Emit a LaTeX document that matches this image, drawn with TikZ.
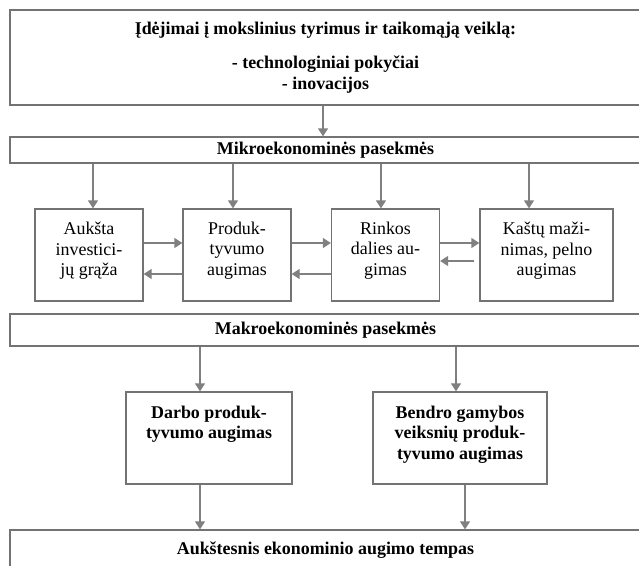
\documentclass[tikz,border=0pt]{standalone}
\usepackage{fontspec}
\setmainfont{Liberation Serif}
\usetikzlibrary{positioning,arrows.meta}

\begin{document}
\begin{tikzpicture}[
  x=0.3mm,y=-0.3mm,
  every node/.style={font=\fontsize{15.3}{17.9}\selectfont},
  box/.style={draw=black!55,line width=0.4mm,inner sep=0pt},
  band/.style={box,minimum width=189.3mm,align=center,font=\fontsize{15.3}{17.9}\selectfont\bfseries},
  cell/.style={box,minimum width=32.4mm,minimum height=27.6mm},
  big/.style={box,minimum width=49.8mm,minimum height=27.6mm},
  txt/.style={inner sep=0pt,align=center},
  btxt/.style={txt,font=\fontsize{15.3}{17.9}\selectfont\bfseries},
  arr/.style={draw=black!50,line width=0.4mm,-{Triangle[width=3mm,length=2.4mm]}}]

\useasboundingbox (0,0) rectangle (639,566);
\clip (0,0) rectangle (639,566);

% ---- top: investment and microeconomic band ----
\node[band,minimum height=28.5mm] (ideja) at (325.5,57.5)
  {Įdėjimai į mokslinius tyrimus ir taikomąją veiklą:\\[4mm]
   - technologiniai pokyčiai\\ - inovacijos};
\node[band,minimum height=7.8mm] (mikro) at (325.5,150) {Mikroekonominės pasekmės};
\coordinate (m0) at (323,0);
\draw[arr] (m0 |- ideja.south) -- (m0 |- mikro.north);

% ---- micro level boxes ----
\node[cell] (b1) at (89,255) {};
\node[cell] (b2) at (237,255) {};
\node[cell] (b3) at (385.5,255) {};
\node[cell,minimum width=39.9mm] (b4) at (546.5,255) {};
\node[txt,below=3.9mm of b1.north] (t1) {Aukšta\\investici-\\jų grąža};
\node[txt,below=3.9mm of b2.north] (t2) {Produk-\\tyvumo\\augimas};
\node[txt,below=3.9mm of b3.north] (t3) {Rinkos\\dalies au-\\gimas};
\node[txt,below=3.9mm of b4.north] (t4) {Kaštų maži-\\nimas, pelno\\augimas};

\coordinate (d1) at (93,0);
\coordinate (d2) at (233,0);
\coordinate (d3) at (381,0);
\coordinate (d4) at (529,0);
\foreach \c/\b in {d1/b1,d2/b2,d3/b3,d4/b4} \draw[arr] (\c |- mikro.south) -- (\c |- \b.north);

\coordinate (hu) at (0,243);
\coordinate (hl) at (0,274);
\coordinate (k4) at (474,261);
\foreach \s/\t in {b1/b2,b2/b3,b3/b4} \draw[arr] (\s.east |- hu) -- (\t.west |- hu);
\foreach \s/\t in {b2/b1,b3/b2} \draw[arr] (\s.west |- hl) -- (\t.east |- hl);
\draw[arr] (k4) -- (b3.east |- k4);

% ---- macro level ----
\node[band,minimum height=9.6mm] (makro) at (325.5,330) {Makroekonominės pasekmės};
\node[big] (darbo) at (209,438) {};
\node[big,minimum width=52.2mm] (bendro) at (460,438) {};
\node[btxt,below=4.2mm of darbo.north] (t5) {Darbo produk-\\tyvumo augimas};
\node[btxt,below=4.2mm of bendro.north] (t6) {Bendro gamybos\\veiksnių produk-\\tyvumo augimas};
\node[band,minimum height=12mm] (tempas) at (325.5,550) {Aukštesnis ekonominio augimo tempas};

\coordinate (m1) at (200,0);
\coordinate (m2) at (456,0);
\coordinate (m3) at (465,0);
\draw[arr] (m1 |- makro.south) -- (m1 |- darbo.north);
\draw[arr] (m2 |- makro.south) -- (m2 |- bendro.north);
\draw[arr] (m1 |- darbo.south) -- (m1 |- tempas.north);
\draw[arr] (m3 |- bendro.south) -- (m3 |- tempas.north);
\end{tikzpicture}
\end{document}
